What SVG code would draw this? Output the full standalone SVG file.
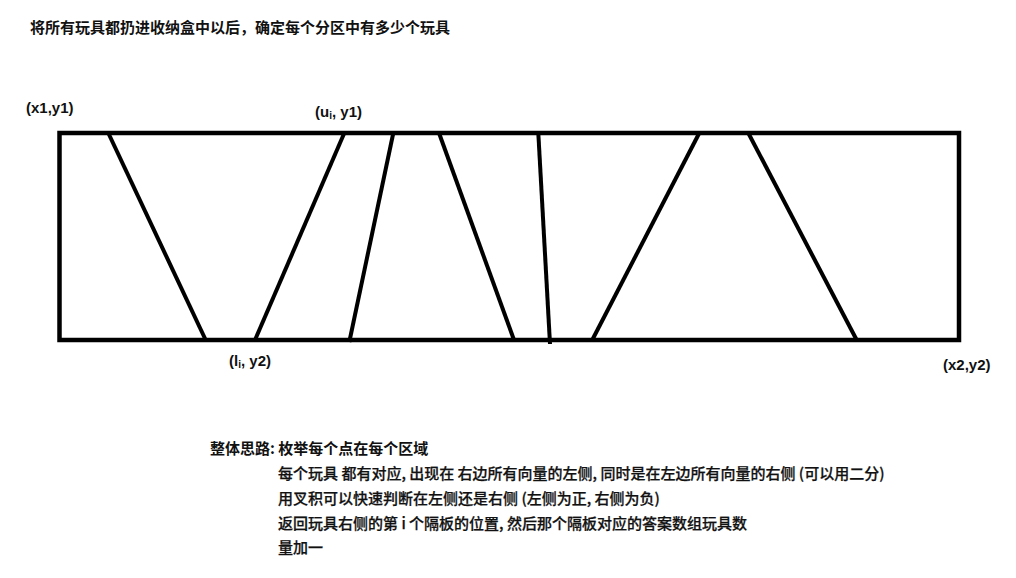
<svg xmlns="http://www.w3.org/2000/svg" width="1016" height="578" viewBox="0 0 1016 578">
<style>
.cjk{font-family:"Noto Sans CJK SC","Liberation Sans",sans-serif;font-size:15px;fill:#111}
.b{font-weight:bold}
.m{font-weight:500;stroke:#111;stroke-width:0.25}
.lab{font-family:"Liberation Sans",Arial,sans-serif;font-size:15px;font-weight:bold;fill:#111}
.box{fill:none;stroke:#000;stroke-width:4.5}
.div{stroke:#000;stroke-width:4;stroke-linecap:butt}
</style>
<rect width="1016" height="578" fill="#fff"/>
<text id="title" class="cjk b" x="30" y="33">将所有玩具都扔进收纳盒中以后，确定每个分区中有多少个玩具</text>
<g id="box">
<rect class="box" x="59.5" y="133" width="899.5" height="207"/>
</g>
<g id="dividers">
<line class="div" x1="108.3" y1="133" x2="205.7" y2="340"/>
<line class="div" x1="344.3" y1="133" x2="255" y2="340"/>
<line class="div" x1="393.3" y1="133" x2="349.3" y2="342"/>
<line class="div" x1="439" y1="133" x2="514" y2="340"/>
<line class="div" x1="538.3" y1="133" x2="550" y2="344"/>
<line class="div" x1="699.3" y1="133" x2="591.7" y2="341"/>
<line class="div" x1="748.3" y1="133" x2="856.7" y2="340"/>
</g>
<g id="labels">
<text class="lab" x="26" y="113">(x1,y1)</text>
<text class="lab" x="315" y="117">(u<tspan font-size="10" dy="2">i</tspan><tspan dy="-2">, y1)</tspan></text>
<text class="lab" x="229" y="366">(l<tspan font-size="10" dy="2">i</tspan><tspan dy="-2">, y2)</tspan></text>
<text class="lab" x="943" y="370">(x2,y2)</text>
</g>
<g id="notes">
<text class="cjk b" x="210" y="454">整体思路: 枚举每个点在每个区域</text>
<text class="cjk m" x="278" y="479">每个玩具 都有对应, 出现在 右边所有向量的左侧, 同时是在左边所有向量的右侧 (可以用二分)</text>
<text class="cjk m" x="278" y="504">用叉积可以快速判断在左侧还是右侧 (左侧为正, 右侧为负)</text>
<text class="cjk m" x="278" y="529">返回玩具右侧的第 i 个隔板的位置, 然后那个隔板对应的答案数组玩具数</text>
<text class="cjk m" x="278" y="553">量加一</text>
</g>
</svg>
